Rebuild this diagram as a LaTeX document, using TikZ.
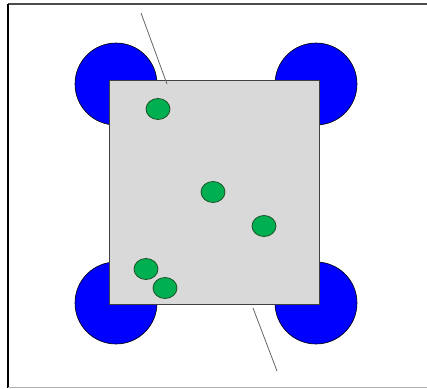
\documentclass[tikz,border=0pt]{standalone}
\usetikzlibrary{shapes.geometric}
\definecolor{wheelblue}{RGB}{0,0,255}
\definecolor{bodygray}{RGB}{217,217,217}
\definecolor{dotgreen}{RGB}{0,176,80}
\definecolor{dotedge}{RGB}{30,80,40}
\tikzset{
  wheel/.style={circle, draw=black, fill=wheelblue, line width=0.6pt, minimum size=82pt, inner sep=0pt},
  dot/.style={ellipse, draw=dotedge, fill=dotgreen, line width=0.8pt, minimum width=24pt, minimum height=21pt, inner sep=0pt},
  body/.style={draw=black!75, fill=bodygray, line width=0.8pt, minimum width=210pt, minimum height=224pt, inner sep=0pt},
  pole/.style={draw=black!60, line width=0.8pt}
}
\begin{document}
\begin{tikzpicture}[x=1pt,y=-1pt]
\useasboundingbox (0,0) rectangle (427,388);
\fill[white] (0,0) rectangle (427,388);
% frame
\draw[black!70, line width=1.5pt] (8,4) -- (427,4);
\draw[black, line width=2pt] (8,4) -- (8,388);
\draw[black!30, line width=1pt] (8,387) -- (427,387);
% wheels
\node[wheel] (w1) at (116,84) {};
\node[wheel] (w2) at (316,84) {};
\node[wheel] (w3) at (116,303) {};
\node[wheel] (w4) at (316,303) {};
% body
\node[body] (b) at (214,192) {};
% poles
\coordinate (p1a) at (141,13);
\coordinate (p1b) at (167,84);
\coordinate (p2a) at (253,308);
\coordinate (p2b) at (277,371);
\draw[pole] (p1a) -- (p1b);
\draw[pole] (p2a) -- (p2b);
% dots
\node[dot] (d1) at (158,109) {};
\node[dot] (d2) at (213,192) {};
\node[dot] (d3) at (264,226) {};
\node[dot] (d4) at (146,269) {};
\node[dot] (d5) at (165,288) {};
\end{tikzpicture}
\end{document}
